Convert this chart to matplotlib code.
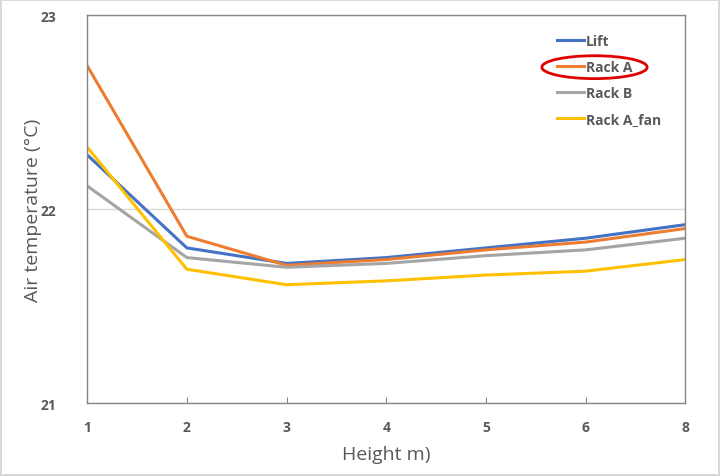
import matplotlib
matplotlib.use("Agg")
import matplotlib.pyplot as plt
from matplotlib.patches import Ellipse

plt.rcParams['font.family'] = ['Open Sans', 'DejaVu Sans']

heights = ['1', '2', '3', '4', '5', '6', '8']
lift = [22.28, 21.80, 21.72, 21.75, 21.80, 21.85, 21.92]
rack_a = [22.74, 21.86, 21.71, 21.74, 21.79, 21.83, 21.90]
rack_b = [22.12, 21.75, 21.70, 21.72, 21.76, 21.79, 21.85]
rack_a_fan = [22.32, 21.69, 21.61, 21.63, 21.66, 21.68, 21.74]

series = [
    ('Lift', lift, '#4472C4'),
    ('Rack A', rack_a, '#ED7D31'),
    ('Rack B', rack_b, '#A5A5A5'),
    ('Rack A_fan', rack_a_fan, '#FFC000'),
]

text_col = '#595959'

fig = plt.figure(figsize=(7.2, 4.77), dpi=100)
fig.patch.set_edgecolor('#D9D9D9')
fig.patch.set_linewidth(1.5)
ax = fig.add_axes([0.121, 0.153, 0.831, 0.813])

x = range(len(heights))
for name, vals, col in series:
    ax.plot(x, vals, color=col, lw=2.2, label=name)

ax.set_xlim(0, len(heights) - 1)
ax.set_ylim(21, 23)
ax.set_xticks(list(x))
ax.set_xticklabels(heights)
ax.set_yticks([21, 22, 23])
ax.yaxis.grid(True, color='#D9D9D9', lw=1)
ax.set_axisbelow(True)

for s in ax.spines.values():
    s.set_color('#868686')
    s.set_linewidth(1)

ax.tick_params(axis='x', direction='in', length=4, color='#868686', pad=12,
               labelsize=10, labelcolor=text_col)
ax.tick_params(axis='y', length=0, pad=22, labelsize=10, labelcolor=text_col)
for lab in ax.get_xticklabels() + ax.get_yticklabels():
    lab.set_fontweight('bold')

ax.set_xlabel('Height m)', fontsize=14, color=text_col, labelpad=8)
ax.set_ylabel('Air temperature (\u00b0C)', fontsize=14, color=text_col)
ax.yaxis.set_label_coords(-0.075, 0.5)

leg = ax.legend(loc='upper left', bbox_to_anchor=(0.765, 0.985), frameon=False,
                handlelength=1.9, handletextpad=0.15, labelspacing=0.88,
                prop={'size': 10, 'weight': 'bold'})
for t in leg.get_texts():
    t.set_color(text_col)

ax.add_patch(Ellipse((0.848, 0.866), 0.176, 0.059, transform=ax.transAxes,
                     fill=False, edgecolor='#E00000', lw=2, clip_on=False))

fig.savefig('out.png', dpi=100)
